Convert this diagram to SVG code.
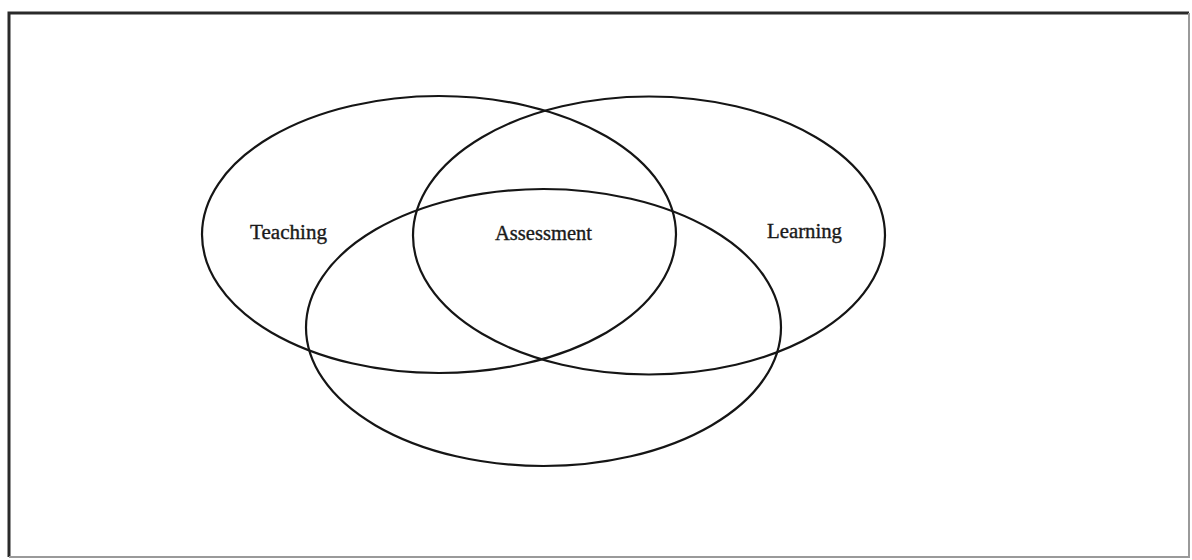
<svg xmlns="http://www.w3.org/2000/svg" width="1192" height="560" viewBox="0 0 1192 560">
  <style>
    .ring { fill: none; stroke: #151515; stroke-width: 2.2; }
    .label { font-family: "Liberation Serif", "DejaVu Serif", serif; font-size: 20px; fill: #1a1a1a; stroke: #1a1a1a; stroke-width: 0.35; }
    .frame-strong { stroke: #2a2a2a; stroke-width: 3; fill: none; }
    .frame-light { stroke: #9a9a9a; stroke-width: 2; fill: none; }
  </style>
  <rect width="1192" height="560" fill="#ffffff"/>

  <!-- outer frame: heavier top/left edges, lighter right/bottom edges -->
  <g id="frame">
    <path class="frame-strong" d="M9 557 L9 13 L1189 13"/>
    <path class="frame-light" d="M1189 13 L1189 557 L9 557"/>
  </g>

  <!-- the three overlapping sets -->
  <g id="teaching">
    <ellipse class="ring" cx="439" cy="234.5" rx="237" ry="138.5"/>
    <text class="label" x="250" y="239" textLength="77" lengthAdjust="spacingAndGlyphs">Teaching</text>
  </g>
  <g id="learning">
    <ellipse class="ring" cx="649" cy="235.5" rx="236" ry="139"/>
    <text class="label" x="767" y="238" textLength="75" lengthAdjust="spacingAndGlyphs">Learning</text>
  </g>
  <g id="assessment">
    <ellipse class="ring" cx="543.5" cy="327.5" rx="237.5" ry="138.5"/>
    <text class="label" x="495" y="239.5" textLength="97" lengthAdjust="spacingAndGlyphs">Assessment</text>
  </g>

  <g id="connectors"/>
</svg>
